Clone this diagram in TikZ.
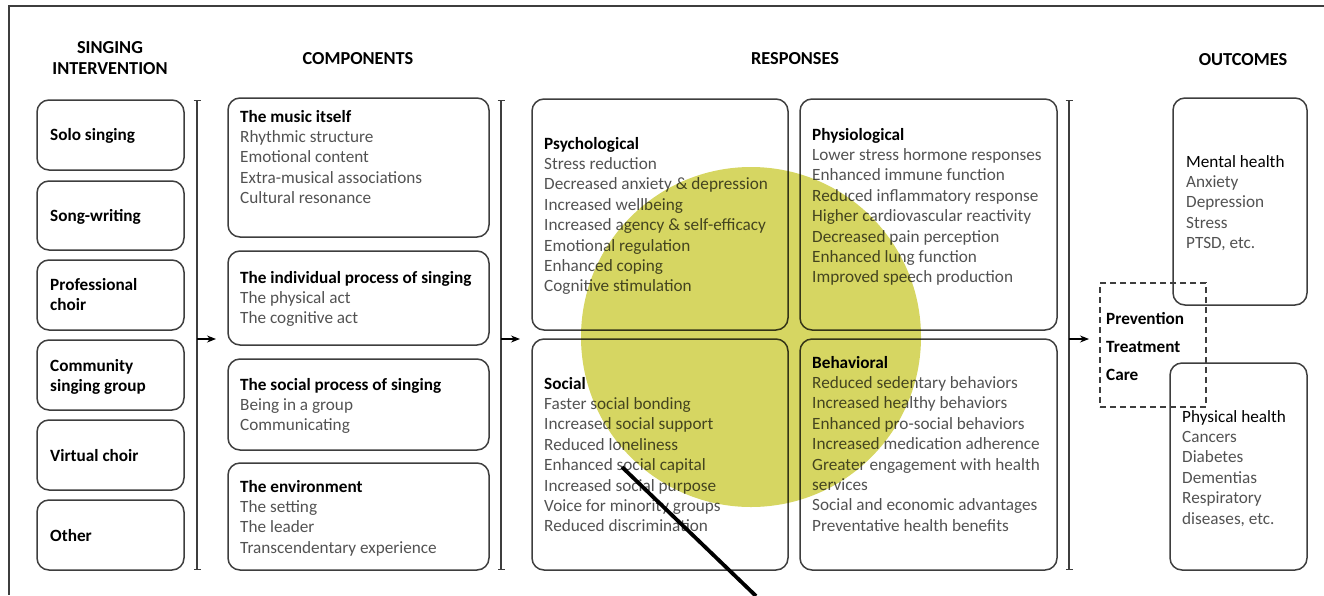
\documentclass[tikz,border=0pt]{standalone}
\usepackage{fontspec}
\setmainfont{Carlito}
\usetikzlibrary{arrows.meta}
\definecolor{edge}{RGB}{62,62,62}
\definecolor{item}{RGB}{82,82,82}
\definecolor{hl}{RGB}{214,214,98}
% left-aligned block of lines whose baseline is the first line
\newcommand{\lines}[1]{\begin{tabular}[t]{@{}l@{}}#1\end{tabular}}
\newcommand{\hd}[1]{\textcolor{black}{\textbf{#1}}}
% rounded box from its corners (x1,y1) to (x2,y2)
\newcommand{\rb}[5]{\node[rbox, minimum width={#4-#2}, minimum height={#5-#3}] (#1) at ({(#2+#4)/2},{(#3+#5)/2}) {};}

\begin{document}
\begin{tikzpicture}[x=1pt,y=-1pt,
  rbox/.style={draw=edge, line width=1.5pt, rounded corners=12pt, inner sep=0pt},
  txt/.style={anchor=base west, inner sep=0pt, text=item, font=\fontsize{17.2}{20.4}\selectfont},
  lbl/.style={anchor=base west, inner sep=0pt, font=\fontsize{17.2}{20.8}\selectfont\bfseries},
  head/.style={anchor=base, inner sep=0pt, font=\fontsize{18.3}{21}\selectfont\bfseries},
  bracket/.style={draw=edge, line width=1.4pt, {Bar[width=7pt]}-{Bar[width=7pt]}},
  flow/.style={draw=black, line width=1.2pt, -{Stealth[length=9pt,width=7pt]}},
  dbox/.style={draw=edge, line width=1.5pt, dash pattern=on 6pt off 4pt, inner sep=0pt},
]
\useasboundingbox (0,0) rectangle (1324,595);

% outer frame (top and left edges)
\draw[edge, line width=1.5pt] (1324,6) -- (9,6) -- (9,595);

% column headings
\node[head] (h1) at (110,53) {\begin{tabular}[t]{@{}c@{}}SINGING\\INTERVENTION\end{tabular}};
\node[head] (h2) at (358,64) {COMPONENTS};
\node[head] (h3) at (795,64) {RESPONSES};
\node[head] (h4) at (1243,65) {OUTCOMES};

% singing interventions
\rb{s1}{37}{100}{184}{170}
\rb{s2}{37}{181}{184}{250}
\rb{s3}{37}{260}{184}{330}
\rb{s4}{37}{340}{184}{410}
\rb{s5}{37}{420}{184}{490}
\rb{s6}{37}{500}{184}{570}
\node[lbl] (s1t) at (50,140) {Solo singing};
\node[lbl] (s2t) at (50,221) {Song-writing};
\node[lbl] (s3t) at (50,290) {\lines{Professional\\choir}};
\node[lbl] (s4t) at (50,371) {\lines{Community\\singing group}};
\node[lbl] (s5t) at (50,461) {Virtual choir};
\node[lbl] (s6t) at (50,541) {Other};

% components
\rb{c1}{228}{98}{489}{237}
\rb{c2}{228}{251}{489}{345}
\rb{c3}{228}{359}{489}{450}
\rb{c4}{228}{463}{489}{570}
\node[txt] (c1t) at (240,122) {\lines{\hd{The music itself}\\Rhythmic structure\\Emotional content\\Extra-musical associations\\Cultural resonance}};
\node[txt] (c2t) at (240,283) {\lines{\hd{The individual process of singing}\\The physical act\\The cognitive act}};
\node[txt] (c3t) at (240,390) {\lines{\hd{The social process of singing}\\Being in a group\\Communicating}};
\node[txt] (c4t) at (240,492) {\lines{\hd{The environment}\\The setting\\The leader\\Transcendentary experience}};

% responses
\rb{r1}{532}{99}{788}{330}
\rb{r2}{800}{99}{1057}{330}
\rb{r3}{532}{339}{788}{570}
\rb{r4}{800}{339}{1057}{570}
\node[txt] (r1t) at (544,149) {\lines{\hd{Psychological}\\Stress reduction\\Decreased anxiety \& depression\\Increased wellbeing\\Increased agency \& self-efficacy\\Emotional regulation\\Enhanced coping\\Cognitive stimulation}};
\node[txt] (r2t) at (812,140) {\lines{\hd{Physiological}\\Lower stress hormone responses\\Enhanced immune function\\Reduced inflammatory response\\Higher cardiovascular reactivity\\Decreased pain perception\\Enhanced lung function\\Improved speech production}};
\node[txt] (r3t) at (544,389) {\lines{\hd{Social}\\Faster social bonding\\Increased social support\\Reduced loneliness\\Enhanced social capital\\Increased social purpose\\Voice for minority groups\\Reduced discrimination}};
\node[txt] (r4t) at (812,368) {\lines{\hd{Behavioral}\\Reduced sedentary behaviors\\Increased healthy behaviors\\Enhanced pro-social behaviors\\Increased medication adherence\\Greater engagement with health\\services\\Social and economic advantages\\Preventative health benefits}};

% outcomes
\rb{o1}{1173}{98}{1307}{305}
\rb{o2}{1170}{363}{1307}{570}
\node[txt] (o1t) at (1186,167) {\lines{\hd{\mdseries Mental health}\\Anxiety\\Depression\\Stress\\PTSD, etc.}};
\node[txt] (o2t) at (1182,422) {\lines{\hd{\mdseries Physical health}\\Cancers\\Diabetes\\Dementias\\Respiratory\\diseases, etc.}};
\node[dbox, minimum width=106, minimum height=124] (care) at (1153,345) {};
\node[lbl] (p1) at (1106,324) {Prevention};
\node[lbl] (p2) at (1106,352) {Treatment};
\node[lbl] (p3) at (1106,380) {Care};

% brackets and flow arrows between stages
\coordinate (b1t) at (197,100); \coordinate (b1b) at (197,570);
\coordinate (b2t) at (501,100); \coordinate (b2b) at (501,570);
\coordinate (b3t) at (1069,100); \coordinate (b3b) at (1069,570);
\draw[bracket] (b1t) -- (b1b);
\draw[bracket] (b2t) -- (b2b);
\draw[bracket] (b3t) -- (b3b);
\coordinate (a1s) at (197,339); \coordinate (a1e) at (216,339);
\coordinate (a2s) at (501,339); \coordinate (a2e) at (520,339);
\coordinate (a3s) at (1069,339); \coordinate (a3e) at (1089,339);
\draw[flow] (a1s) -- (a1e);
\draw[flow] (a2s) -- (a2e);
\draw[flow] (a3s) -- (a3e);

% highlight disc over the responses
\begin{scope}[blend mode=multiply]
  \fill[hl] (751,337) circle[radius=170];
\end{scope}

% pointer line
\coordinate (pa) at (622,467);
\coordinate (pb) at (756,596);
\draw[black, line width=3.8pt] (pa) -- (pb);
\end{tikzpicture}
\end{document}
